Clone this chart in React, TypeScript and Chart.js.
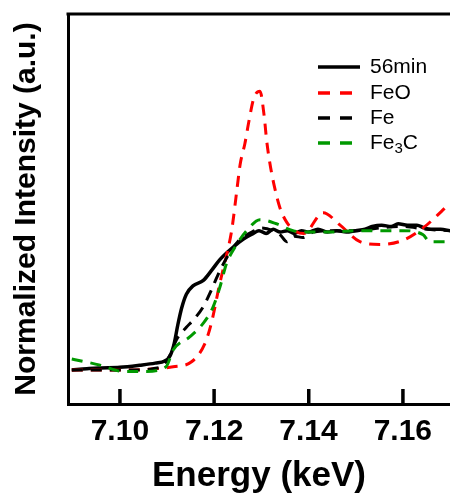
import { useEffect, useRef } from "react";
import { Chart, registerables } from "chart.js";

Chart.register(...registerables);

// ---- data (energy in keV, normalized intensity in a.u.) ----
const energyTicks = [7.1, 7.12, 7.14, 7.16];
const seriesNames = ["56min", "FeO", "Fe", "Fe3C"];

const min56Energy = [7.0898, 7.093, 7.096, 7.1, 7.1042, 7.1075, 7.1095, 7.1106, 7.1115, 7.1123, 7.1131, 7.1141, 7.1155, 7.1177, 7.1194, 7.1212, 7.124, 7.1262, 7.1283, 7.1295, 7.131, 7.1325, 7.134, 7.1355, 7.137, 7.1385, 7.14, 7.142, 7.144, 7.146, 7.148, 7.15, 7.152, 7.1535, 7.1555, 7.1575, 7.159, 7.161, 7.163, 7.1645, 7.166, 7.168, 7.17];
const min56Intensity = [0.0, 0.01, 0.015, 0.02, 0.035, 0.05, 0.065, 0.1, 0.19, 0.33, 0.45, 0.55, 0.61, 0.65, 0.72, 0.8, 0.89, 0.95, 0.99, 1.01, 0.99, 1.02, 1.0, 1.01, 0.99, 1.01, 1.0, 1.02, 1.0, 1.01, 1.0, 1.01, 1.02, 1.04, 1.05, 1.04, 1.06, 1.05, 1.05, 1.03, 1.02, 1.02, 1.01];

const feoEnergy = [7.0898, 7.1, 7.106, 7.1113, 7.1152, 7.118, 7.1194, 7.1212, 7.1226, 7.1237, 7.1249, 7.1255, 7.1265, 7.1274, 7.1284, 7.1297, 7.1306, 7.1311, 7.1318, 7.1327, 7.1339, 7.1354, 7.1375, 7.139, 7.1431, 7.1467, 7.1509, 7.1551, 7.16, 7.1643, 7.1682, 7.17];
const feoIntensity = [0.0, 0.0, 0.005, 0.024, 0.06, 0.19, 0.34, 0.63, 0.83, 1.01, 1.33, 1.49, 1.64, 1.81, 1.97, 2.02, 1.84, 1.67, 1.5, 1.34, 1.18, 1.07, 1.0, 0.99, 1.14, 1.05, 0.93, 0.91, 0.94, 1.03, 1.15, 1.21];

const feEnergy = [7.0898, 7.095, 7.1, 7.104, 7.107, 7.109, 7.1105, 7.112, 7.1141, 7.1155, 7.1177, 7.1194, 7.1208, 7.1226, 7.125, 7.128, 7.13, 7.1325, 7.134, 7.1354, 7.137, 7.1388, 7.141, 7.145, 7.15, 7.155, 7.16, 7.165, 7.17];
const feIntensity = [0.0, 0.0, 0.0, 0.0, 0.01, 0.03, 0.1, 0.22, 0.31, 0.36, 0.46, 0.58, 0.69, 0.81, 0.93, 1.0, 1.03, 1.01, 0.98, 0.93, 0.97, 0.96, 1.0, 1.01, 1.01, 1.03, 1.04, 1.02, 1.01];

const fe3cEnergy = [7.0898, 7.0905, 7.0958, 7.1006, 7.1053, 7.1098, 7.1113, 7.1148, 7.1177, 7.1198, 7.1212, 7.1226, 7.1244, 7.1269, 7.1297, 7.1332, 7.1367, 7.14, 7.145, 7.15, 7.155, 7.16, 7.1643, 7.1657, 7.1685, 7.17];
const fe3cIntensity = [0.08, 0.075, 0.036, -0.01, -0.01, 0.024, 0.145, 0.24, 0.34, 0.46, 0.6, 0.77, 0.89, 1.01, 1.09, 1.06, 1.01, 1.0, 1.0, 1.01, 1.01, 1.01, 0.98, 0.93, 0.93, 0.93];

const xMin = 7.089;
const xMax = 7.17;
const yMin = -0.246;
const yMax = 2.58;

const FONT = "'Liberation Sans', Arial, Helvetica, sans-serif";

const toPoints = (xs: number[], ys: number[]) => xs.map((x, i) => ({ x, y: ys[i] }));

const legendItems = [
  { label: seriesNames[0], color: "#000000", dash: [] as number[] },
  { label: seriesNames[1], color: "#ff0000", dash: [12, 10] },
  { label: seriesNames[2], color: "#000000", dash: [12, 10] },
  { label: seriesNames[3], color: "#009900", dash: [12, 10] },
];

const framePlugin = {
  id: "frame",
  afterDraw(chart: any) {
    const ctx = chart.ctx;
    const area = chart.chartArea;
    const xs = chart.scales.x;
    const ys = chart.scales.y;
    ctx.save();
    ctx.setLineDash([]);
    ctx.fillStyle = "#000000";
    // top frame line
    ctx.fillRect(area.left - 1.5, area.top - 1.5, chart.width - area.left + 2, 3);
    // inward tick marks on the energy axis, 15 px long
    const yBottom = ys.getPixelForValue(yMin);
    for (const t of energyTicks) {
      const px = xs.getPixelForValue(t);
      ctx.fillRect(Math.round(px) - 1.5, yBottom - 15, 3, 15);
    }
    // legend
    const x0 = 318;
    const x1 = 360;
    const tx = 370;
    const rows = [67, 93, 118, 143];
    ctx.textBaseline = "middle";
    ctx.textAlign = "left";
    legendItems.forEach((it, i) => {
      const y = rows[i];
      ctx.strokeStyle = it.color;
      ctx.lineWidth = 3.5;
      ctx.setLineDash(it.dash);
      ctx.beginPath();
      ctx.moveTo(x0, y);
      ctx.lineTo(it.dash.length ? 352 : x1, y);
      ctx.stroke();
      ctx.setLineDash([]);
      ctx.fillStyle = "#000";
      ctx.font = `21px ${FONT}`;
      if (it.label === "Fe3C") {
        ctx.fillText("Fe", tx, y);
        const w1 = ctx.measureText("Fe").width;
        ctx.font = `15px ${FONT}`;
        ctx.fillText("3", tx + w1, y + 6);
        const w2 = ctx.measureText("3").width;
        ctx.font = `21px ${FONT}`;
        ctx.fillText("C", tx + w1 + w2, y);
      } else {
        ctx.fillText(it.label, tx, y);
      }
    });
    ctx.restore();
  },
};

export default function App() {
  const ref = useRef<HTMLCanvasElement | null>(null);

  useEffect(() => {
    if (!ref.current) return;
    const common = {
      pointRadius: 0,
      pointHoverRadius: 0,
      borderWidth: 3,
      fill: false,
      cubicInterpolationMode: "monotone" as const,
    };
    // tick marks as short vertical segments (15 px of the y range)
    const tickSpan = ((yMax - yMin) * 15) / 390;
    const tickSets = energyTicks.map((t) => ({
      label: "",
      data: [
        { x: t, y: yMin },
        { x: t, y: yMin + tickSpan },
      ],
      borderColor: "#000000",
      borderWidth: 3,
      pointRadius: 0,
      pointHoverRadius: 0,
      fill: false,
      clip: 2,
    }));
    const chart = new Chart(ref.current, {
      type: "line",
      data: {
        datasets: [
          {
            ...common,
            label: seriesNames[3],
            data: toPoints(fe3cEnergy, fe3cIntensity),
            borderColor: "#009900",
            borderDash: [11, 8],
          },
          {
            ...common,
            label: seriesNames[2],
            data: toPoints(feEnergy, feIntensity),
            borderColor: "#000000",
            borderDash: [11, 8],
          },
          {
            ...common,
            label: seriesNames[1],
            data: toPoints(feoEnergy, feoIntensity),
            borderColor: "#ff0000",
            borderDash: [11, 8],
          },
          {
            ...common,
            label: seriesNames[0],
            data: toPoints(min56Energy, min56Intensity),
            borderColor: "#000000",
            borderWidth: 3.5,
          },
          ...tickSets,
        ],
      },
      options: {
        animation: false,
        responsive: false,
        devicePixelRatio: 1,
        layout: { padding: { top: 14, left: 0, right: 0, bottom: 0 } },
        plugins: {
          legend: { display: false },
          tooltip: { enabled: false },
        },
        scales: {
          x: {
            type: "linear",
            min: xMin,
            max: xMax,
            afterFit: (s: any) => {
              s.height = 91;
            },
            afterBuildTicks: (s: any) => {
              s.ticks = energyTicks.map((v) => ({ value: v }));
            },
            grid: { display: false, drawTicks: false },
            border: { display: true, color: "#000", width: 3 },
            ticks: {
              color: "#000",
              padding: 10,
              maxRotation: 0,
              font: { family: FONT, size: 30, weight: "bold" },
              callback: (v: any) => Number(v).toFixed(2),
            },
            title: {
              display: true,
              text: "Energy (keV)",
              color: "#000",
              font: { family: FONT, size: 35, weight: "bold", lineHeight: 1 },
              padding: { top: 0, bottom: 1 },
            },
          },
          y: {
            type: "linear",
            min: yMin,
            max: yMax,
            afterFit: (s: any) => {
              s.width = 68;
            },
            grid: { display: false, drawTicks: false },
            border: { display: true, color: "#000", width: 3 },
            ticks: { display: false },
            title: {
              display: true,
              text: "Normalized Intensity (a.u.)",
              color: "#000",
              font: { family: FONT, size: 30, weight: "bold", lineHeight: 1 },
              padding: { top: 12, bottom: 0 },
            },
          },
        },
      },
      plugins: [framePlugin],
    });
    return () => chart.destroy();
  }, []);

  return (
    <div style={{ position: "absolute", left: 0, top: 0, width: 450, height: 495, background: "#fff" }}>
      <canvas ref={ref} width={450} height={495} style={{ display: "block" }} />
    </div>
  );
}
